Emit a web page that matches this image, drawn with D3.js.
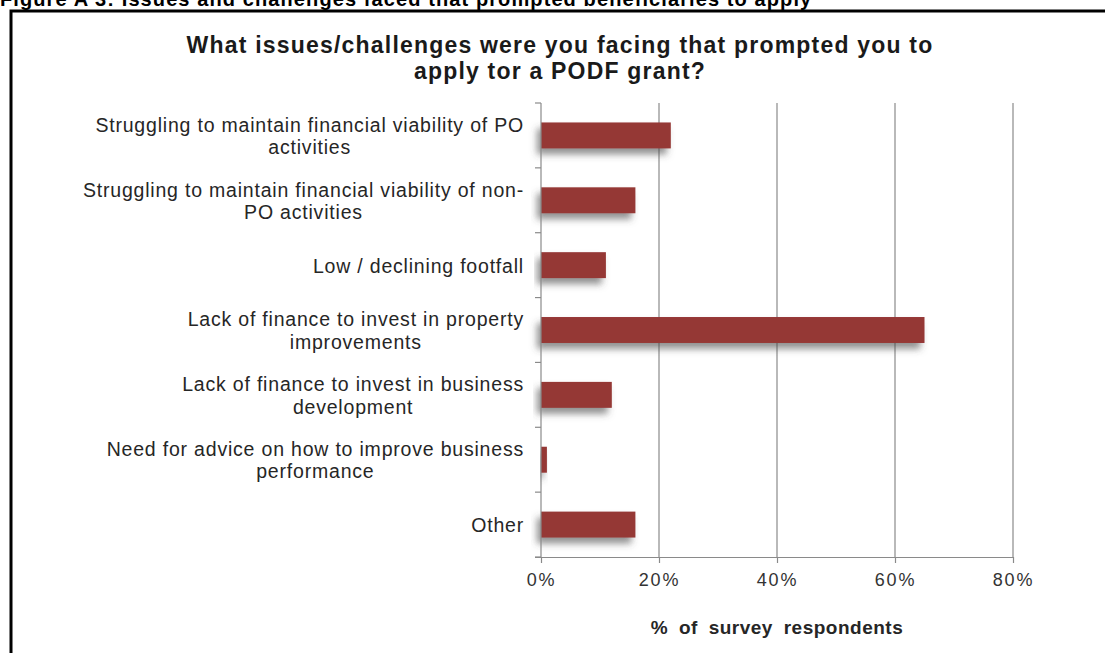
<!DOCTYPE html>
<html>
<head>
<meta charset="utf-8">
<script src="https://cdn.jsdelivr.net/npm/d3@7"></script>
<style>
  html, body { margin: 0; padding: 0; background: #fff; }
  svg { display: block; font-family: "Liberation Sans", Arial, sans-serif; }
</style>
</head>
<body>
<svg id="chart" width="1105" height="653"></svg>
<script>
// Survey responses: reasons for applying for a PODF grant
const categories = [
  ["Struggling to maintain financial viability of PO", "activities"],
  ["Struggling to maintain financial viability of non-", "PO activities"],
  ["Low / declining footfall"],
  ["Lack of finance to invest in property", "improvements"],
  ["Lack of finance to invest in business", "development"],
  ["Need for advice on how to improve business", "performance"],
  ["Other"]
];
const values = [22, 16, 11, 65, 12, 1, 16];
const xTicks = [0, 20, 40, 60, 80];

const figureCaption = "Figure A 3: Issues and challenges faced that prompted beneficiaries to apply";
const titleLines = ["What issues/challenges were you facing that prompted you to", "apply tor a PODF grant?"];
const xAxisTitle = "% of survey respondents";

const svg = d3.select("#chart");
const plot = { left: 541, right: 1013, top: 103, bottom: 557 };

const x = d3.scaleLinear().domain([0, 80]).range([plot.left, plot.right]);
const y = d3.scaleBand()
  .domain(d3.range(categories.length))
  .range([plot.top, plot.bottom])
  .paddingInner(0.6)
  .paddingOuter(0.3);

// soft shadow under the bars
const defs = svg.append("defs");
const f = defs.append("filter").attr("id", "barShadow")
  .attr("x", "-10%").attr("y", "-30%").attr("width", "120%").attr("height", "200%");
f.append("feDropShadow")
  .attr("dx", -4).attr("dy", 6).attr("stdDeviation", 3.5)
  .attr("flood-color", "#4a4a4a").attr("flood-opacity", 0.6);

// figure caption (clipped at the top edge) and frame
svg.append("text")
  .attr("x", 0).attr("y", 6)
  .attr("font-size", 20).attr("font-weight", "bold").attr("fill", "#000")
  .attr("letter-spacing", 1.1)
  .text(figureCaption);

svg.append("path")
  .attr("d", "M11,653 V11 H1105")
  .attr("fill", "none").attr("stroke", "#000").attr("stroke-width", 3);

// chart title
svg.append("text")
  .attr("x", 560).attr("y", 53)
  .attr("text-anchor", "middle")
  .attr("font-size", 23).attr("font-weight", "bold").attr("fill", "#1a1a1a")
  .attr("letter-spacing", 1.2)
  .selectAll("tspan").data(titleLines).join("tspan")
  .attr("x", 560).attr("dy", (d, i) => i === 0 ? 0 : 26)
  .text(d => d);

// vertical gridlines
svg.append("g")
  .selectAll("line").data(xTicks.slice(1)).join("line")
  .attr("x1", d => x(d)).attr("x2", d => x(d))
  .attr("y1", plot.top).attr("y2", plot.bottom)
  .attr("stroke", "#8a8a8a").attr("stroke-width", 1.2);

// bars
svg.append("g")
  .selectAll("rect").data(values).join("rect")
  .attr("x", x(0))
  .attr("y", (d, i) => y(i))
  .attr("width", d => x(d) - x(0))
  .attr("height", y.bandwidth())
  .attr("fill", "#953735")
  .attr("filter", "url(#barShadow)");

// x axis
const xAxis = d3.axisBottom(x)
  .tickValues(xTicks)
  .tickSize(6)
  .tickPadding(10)
  .tickFormat(d => d + "%");
const gx = svg.append("g")
  .attr("transform", `translate(0,${plot.bottom})`)
  .call(xAxis);
gx.select(".domain").attr("stroke", "#8a8a8a").attr("stroke-width", 1.2)
  .attr("d", `M${plot.left - 6},0.5H${plot.right}`);
gx.selectAll(".tick line").attr("stroke", "#8a8a8a").attr("stroke-width", 1.2)
  .attr("y1", -0).attr("y2", 6);
gx.selectAll(".tick text")
  .attr("font-family", "Liberation Sans, Arial, sans-serif")
  .attr("font-size", 18).attr("fill", "#333").attr("letter-spacing", 1.8);

// y axis: line at zero with ticks at category boundaries
const boundaries = d3.range(categories.length + 1).map(i =>
  plot.top + i * (plot.bottom - plot.top) / categories.length);
svg.append("line")
  .attr("x1", x(0)).attr("x2", x(0))
  .attr("y1", plot.top).attr("y2", plot.bottom)
  .attr("stroke", "#8a8a8a").attr("stroke-width", 1.2);
svg.append("g")
  .selectAll("line").data(boundaries).join("line")
  .attr("x1", x(0) - 6).attr("x2", x(0))
  .attr("y1", d => d).attr("y2", d => d)
  .attr("stroke", "#8a8a8a").attr("stroke-width", 1.2);

// category labels, wrapped to two lines where needed
const lineH = 22.5;
const labels = svg.append("g")
  .selectAll("text").data(categories).join("text")
  .attr("font-size", 19.5).attr("fill", "#262626")
  .attr("letter-spacing", 0.8)
  .attr("text-anchor", "middle");
labels.each(function (lines, i) {
  const t = d3.select(this);
  const cy = y(i) + y.bandwidth() / 2;
  const y0 = cy - (lines.length - 1) * lineH / 2 + 7.5;
  lines.forEach((ln, k) => {
    t.append("tspan").attr("y", y0 + k * lineH).text(ln);
  });
  // right-align the first line at the axis; center the rest under it
  const spans = t.selectAll("tspan").nodes();
  const w0 = spans[0].getComputedTextLength();
  const right = 524;
  const center = right - w0 / 2;
  spans.forEach(s => d3.select(s).attr("x", center));
});

// axis title
svg.append("text")
  .attr("x", (plot.left + plot.right) / 2).attr("y", 634)
  .attr("text-anchor", "middle")
  .attr("font-size", 19).attr("font-weight", "bold").attr("fill", "#262626")
  .attr("letter-spacing", 0.5)
  .attr("word-spacing", 5)
  .text(xAxisTitle);
</script>
</body>
</html>
